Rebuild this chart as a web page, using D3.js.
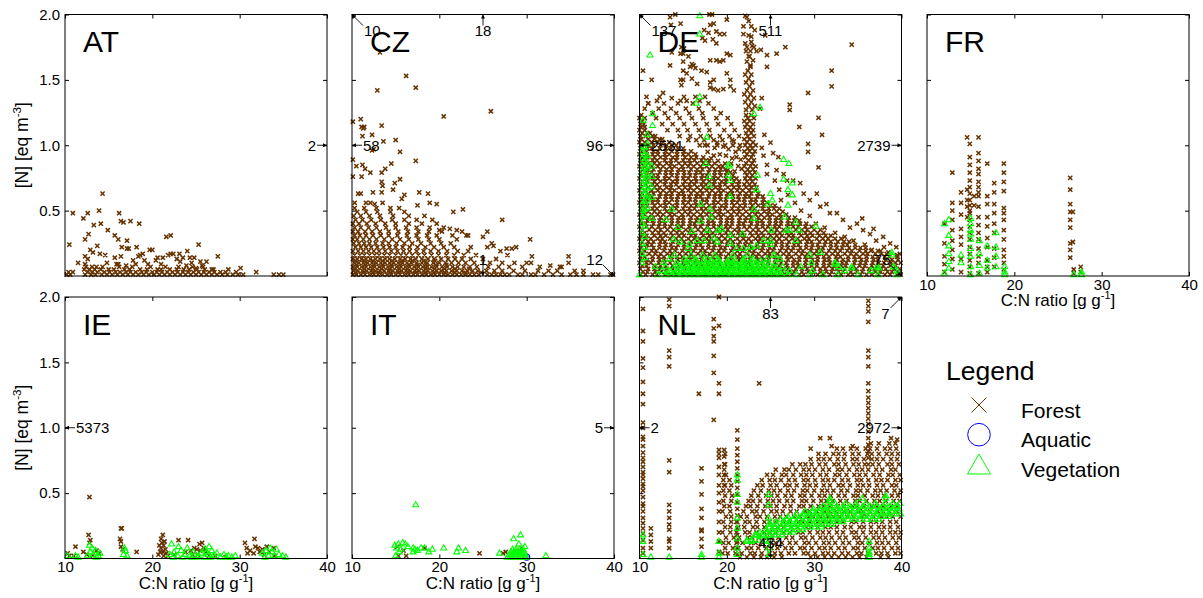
<!DOCTYPE html>
<html>
<head>
<meta charset="utf-8">
<script src="https://cdn.jsdelivr.net/npm/d3@7"></script>
<style>
  body { margin: 0; background: #fff; }
  svg { display: block; }
  text { font-family: "Liberation Sans", Arial, Helvetica, sans-serif; fill: #000; }
</style>
</head>
<body>
<svg id="chart" width="1203" height="598"></svg>
<script>
// ---- axes ----
const xTicks = [10, 20, 30, 40];
const yTicks = [0.5, 1.0, 1.5, 2.0];
const yTickLabels = ["0.5", "1.0", "1.5", "2.0"];
const countries = ["AT", "CZ", "DE", "FR", "IE", "IT", "NL"];
const legendItems = ["Forest", "Aquatic", "Vegetation"];

// ---- observations: "r y|x x ..." (shared y), "c x|y y ..." (shared x), "p|x,y x,y ..." ----
const atForest = [
  "p|14.3,.63 10.9,.48 12.6,.48 13.9,.50 12.1,.44 14.1,.40 13.3,.39 16.2,.48 16.4,.42 16.7,.41 17.5,.42 18.5,.40 14.9,.35 15.7,.31 16.1,.28 17.1,.27 12.7,.32 12.3,.28 10.5,.24 13.7,.23 16.5,.22 17.1,.21 17.3,.21 18.2,.22 21.6,.30 22.1,.31 25.3,.24 24.0,.19 27.5,.15 30.1,.06 31.9,.03 11.5,.10 13.2,.18 12.9,.20 12.3,.15 12.6,.13 14.0,.17 14.6,.16 15.7,.14 16.4,.15 15.9,.09 16.1,.09 17.8,.12 18.1,.09 18.4,.15 18.6,.16 18.9,.17 19.7,.20 20.0,.20 19.1,.12 20.4,.12 20.6,.14 21.2,.14 21.8,.16 22.1,.17 22.4,.17 23.1,.17 22.8,.13 23.2,.11 23.5,.14 24.3,.14 24.5,.10 24.8,.14 25.5,.11 26.2,.11 25.7,.08 26.8,.05 12.3,.09 13.1,.07 14.8,.10 17.0,.08 19.5,.09 21.0,.09 23.9,.08 25.0,.06",
  "r .01|10.2 10.6 12.3 13.0 13.5 14.2 14.8 15.4 16.0 16.6 17.2 17.8 18.4 19.0 19.6 20.2 20.8 21.4 22.0 22.6 23.2 23.8 24.4 25.0 25.6 26.2 26.8 27.4 28.0 28.6 29.2 29.8 30.4 33.9 34.5 35.0",
  "r .03|10.4 10.9 12.6 13.1 13.7 14.5 15.1 15.8 16.3 17.0 17.5 18.1 18.8 19.3 20.0 20.5 21.1 21.7 22.3 22.9 23.5 24.1 24.7 25.3 25.9 26.5 27.1 27.8 28.4 29.6",
  "r .05|12.2 12.8 13.4 14.1 15.0 15.6 16.8 17.4 18.6 19.4 20.6 21.0 22.0 22.8 23.6 24.2 25.1 26.0 27.0 28.7",
  "r .07|12.4 13.6 14.3 16.2 17.7 19.8 21.5 23.0 24.6 25.8"
];

const czForest = [
  "p|16.2,1.53 12.9,1.42 17.3,1.44 20.5,1.22 25.9,1.26 13.2,1.71 10.1,1.18 11.0,1.20 11.1,1.14 11.3,1.13 11.4,1.14 13.4,1.15 11.2,1.07 12.3,1.08 13.6,1.03 15.0,1.04 12.3,.96 12.5,.97 15.5,.95 17.3,.88 10.1,.89 10.5,.84 11.2,.85 11.5,.82 10.1,.76 11.1,.76 12.1,.79 13.4,.79 13.8,.82 14.5,.86 15.5,.74 14.9,.71 13.4,.72 13.5,.69 14.7,.66 13.4,.64 12.4,.64 10.7,.63 11.0,.63 16.0,.62 17.7,.64 18.7,.63 15.7,.59 10.3,.56 11.6,.56 12.1,.56 12.6,.55 13.5,.56 17.5,.54 18.9,.56 19.7,.55 21.6,.49 22.7,.51 27.2,.43 30.4,.28 28.8,.22 34.8,.15 25.5,.34 25.0,.30 20.0,.35 21.2,.36 22.0,.35 23.3,.31 26.2,.23 27.7,.21 28.3,.21 30.6,.15 32.7,.08 34.0,.07",
  "r .01|10.1 10.5 11.0 11.5 12.0 12.5 13.0 13.5 14.0 14.5 15.0 15.5 16.0 16.5 17.0 17.5 18.0 18.5 19.0 19.5 20.0 20.5 21.0 21.5 22.0 22.5 23.0 23.5 24.0 24.5 25.5 26.0 26.5 27.0 27.5 28.0 29.0 29.5 30.5 31.0 32.0 33.0 34.0 35.0 35.7 36.5 37.6 38.2 39.6 39.9",
  "r .025|10.4 11.3 12.4 13.1 14.4 15.3 16.4 17.3 18.4 19.4 20.6 21.8 23.0 24.8",
  "r .04|10.2 10.7 11.2 11.7 12.2 12.7 13.2 13.7 14.2 14.7 15.2 15.7 16.2 16.7 17.2 17.7 18.2 18.7 19.2 19.7 20.2 20.8 21.4 22.0 22.6 23.2 23.8 24.4 25.4 26.3 27.2 28.5 29.8 31.3 32.5 33.5 35.5 36.5",
  "r .055|10.3 11.4 12.3 13.4 14.3 15.4 16.3 17.4 18.5 19.5 20.6 21.8 23.4",
  "r .07|10.1 10.6 11.1 11.6 12.1 12.6 13.1 13.6 14.1 14.6 15.1 15.6 16.1 16.6 17.1 17.6 18.1 18.6 19.1 19.7 20.3 20.9 21.5 22.1 22.8 23.5 24.3 25.6 26.8 28.0 29.5 31.5 33.8",
  "r .085|10.5 11.5 12.5 13.5 14.5 15.5 16.5 17.5 18.5 19.6 20.8",
  "r .10|10.3 10.8 11.3 11.8 12.3 12.8 13.3 13.8 14.3 14.8 15.3 15.8 16.3 16.8 17.4 18.0 18.6 19.3 20.0 20.7 21.4 22.2 23.0 24.0 25.8 27.2 28.6 30.0 30.5 34.8",
  "r .115|10.4 11.4 12.4 13.5 14.6 15.7 16.9 18.2 19.5",
  "r .13|10.1 10.6 11.1 11.6 12.1 12.7 13.2 13.8 14.3 14.9 15.5 16.1 16.7 17.3 18.0 18.7 19.4 20.2 21.0 21.8 22.6 23.6 25.0 26.5",
  "r .16|10.3 10.9 11.4 12.0 12.6 13.1 13.7 14.3 15.0 15.6 16.2 16.9 17.6 18.3 19.1 19.9 20.8 21.7 22.8 24.2 27.8",
  "r .19|10.1 10.7 11.3 11.9 12.5 13.1 13.8 14.5 15.2 15.9 16.6 17.4 18.2 19.0 19.9 20.9 22.1 23.3 27.0",
  "r .22|10.4 11.0 11.6 12.2 12.9 13.6 14.3 15.0 15.8 16.6 17.5 18.4 19.4 20.5 21.7 23.6 25.5",
  "r .25|10.2 10.8 11.4 12.0 12.7 13.5 14.2 15.1 16.0 16.9 17.9 19.0 20.2 21.3 26.0",
  "r .28|10.1 10.6 11.3 12.0 12.8 13.7 14.6 15.5 16.5 17.6 18.8 20.0 22.0",
  "r .31|10.3 10.9 11.6 12.4 13.3 14.2 15.2 16.3 17.4 18.6 19.7 21.5 23.1",
  "r .34|10.1 10.7 11.5 12.3 13.2 14.2 15.3 16.4 17.6 18.8 20.3 22.6",
  "r .37|10.3 11.0 11.9 12.8 13.9 15.0 16.2 17.4 18.9 20.5",
  "r .40|10.1 10.8 11.7 12.7 13.8 15.0 16.5 18.0 19.7",
  "r .43|10.4 11.2 12.2 13.3 14.6 16.0 17.4 19.2",
  "r .46|10.2 11.0 12.0 13.2 14.7 16.5 18.3",
  "r .49|10.6 11.6 12.9 14.4 16.0",
  "r .52|10.3 11.4 12.8 14.4 15.4"
];

const deForest = [
  "r .010|10.1 10.7 11.5 12.0 12.9 13.6 14.2 15.0 15.7 16.3 17.1 17.6 18.5 19.2 19.8 20.6 21.3 21.9 22.7 23.2 24.1 24.8 25.4 26.2 26.9 27.5 28.3 28.8 29.7 30.4 31.0 31.8 32.5 33.1 33.9 34.4 35.3 36.0 36.6 37.4 38.1 38.7 39.5 39.9",
  "r .032|10.4 10.9 11.8 12.5 13.1 13.9 14.6 15.2 16.0 16.5 17.4 18.1 18.7 19.5 20.2 20.8 21.6 22.1 23.0 23.7 24.3 25.1 25.8 26.4 27.2 27.7 28.6 29.3 29.9 30.7 31.4 32.0 32.8 33.3 34.2 34.9 35.5 36.3 37.0 37.6 38.4 38.9 39.8",
  "r .055|10.1 11.0 11.7 12.3 13.1 13.8 14.4 15.2 15.8 16.7 17.4 18.0 18.8 19.5 20.1 20.9 21.4 22.3 23.0 23.6 24.4 25.1 25.7 26.5 27.0 27.9 28.6 29.2 30.0 30.7 31.3 32.1 32.6 33.5 34.2 34.8 35.6 36.3 36.9 37.7 38.2 39.1 39.8",
  "r .078|10.3 10.8 11.7 12.4 13.0 13.8 14.5 15.1 15.9 16.5 17.1 17.9 18.4 19.3 20.0 20.6 21.4 22.1 22.7 23.5 24.1 24.7 25.5 26.0 26.9 27.6 28.2 29.0 29.7 30.3 31.1 31.7 32.3 33.1 33.6 34.5 35.2 35.8 36.6 37.3 37.9 38.7 39.3",
  "r .100|10.0 10.8 11.3 12.2 12.9 13.5 14.3 15.0 15.6 16.4 16.9 17.8 18.5 19.1 19.9 20.6 21.2 22.0 22.5 23.4 24.1 24.7 25.5 26.2 26.8 27.6 28.1 29.0 29.7 30.3 31.1 31.8 32.4 33.2 33.7 34.6 35.3 35.9 36.7 37.4 38.0 38.8 39.3 39.9",
  "r .124|10.2 10.9 11.5 12.3 12.8 13.7 14.4 15.0 15.8 16.5 17.1 17.9 18.6 19.2 20.0 20.5 21.4 22.1 22.7 23.5 24.2 24.8 25.6 26.1 27.0 27.7 28.3 29.1 29.8 30.4 31.2 31.7 32.6 33.3 33.9 34.7 35.4 36.0 36.8 37.3 38.2 38.9 39.6",
  "r .147|10.1 10.6 11.5 12.2 12.8 13.6 14.3 14.9 15.7 16.2 17.1 17.8 18.4 19.2 19.9 20.5 21.3 21.8 22.7 23.4 24.0 24.8 25.5 26.1 26.9 27.4 28.3 29.0 29.6 30.4 31.1 31.7 32.5 33.0 33.9 34.6 35.2 36.0 36.7 37.3 38.1 38.6 39.5",
  "r .170|10.3 11.1 11.8 12.4 13.2 13.7 14.6 15.3 15.9 16.7 17.4 18.0 18.8 19.3 20.2 20.9 21.5 22.3 23.0 23.6 24.4 24.9 25.8 26.5 27.1 27.9 28.6 29.2 30.0 30.5 31.4 32.1 32.7 33.5 34.2 34.8 35.6 36.1 37.0 37.7 38.3",
  "r .192|10.0 10.6 11.4 11.9 12.8 13.5 14.1 14.9 15.6 16.2 17.0 17.5 18.4 19.1 19.7 20.5 21.2 21.8 22.6 23.1 24.0 24.7 25.3 26.1 26.8 27.4 28.2 28.7 29.6 30.3 30.9 31.7 32.4 33.0 33.8 34.3 35.2 35.9 36.5 37.3",
  "r .215|10.2 10.8 11.6 12.3 12.9 13.7 14.2 15.1 15.8 16.4 17.2 17.9 18.5 19.3 19.8 20.7 21.4 22.0 22.8 23.5 24.1 24.9 25.4 26.3 27.0 27.6 28.4 29.1 29.7 30.5 31.0 31.9 32.6 33.2 34.0 34.7 35.3 35.9",
  "r .238|10.1 10.9 11.4 12.3 13.0 13.6 14.4 15.1 15.7 16.5 17.0 17.9 18.6 19.2 20.0 20.7 21.3 22.1 22.6 23.5 24.2 24.8 25.6 26.3 26.9 27.7 28.2 29.1 29.8 30.4 31.2 31.9 32.5 33.3 33.8 34.7",
  "r .262|10.3 11.0 11.6 12.4 12.9 13.8 14.5 15.1 15.9 16.6 17.2 18.0 18.5 19.4 20.1 20.7 21.5 22.2 22.8 23.6 24.1 25.0 25.7 26.3 27.1 27.8 28.4 29.2 29.7 30.6 31.3 31.9 32.7 33.4 34.0",
  "r .285|10.0 10.7 11.3 12.1 12.6 13.5 14.2 14.8 15.6 16.3 16.9 17.7 18.2 19.1 19.8 20.4 21.2 21.9 22.5 23.3 23.8 24.7 25.4 26.0 26.8 27.5 28.1 28.9 29.4 30.3 31.0 31.6 32.4 33.1",
  "r .308|10.2 10.8 11.7 12.4 13.0 13.8 14.5 15.1 15.9 16.4 17.3 18.0 18.6 19.4 20.1 20.7 21.5 22.0 22.9 23.6 24.2 25.0 25.7 26.3 27.1 27.6 28.5 29.2 29.8 30.6 31.3 31.9",
  "r .330|10.1 10.6 11.5 12.2 12.8 13.6 14.3 14.9 15.7 16.2 17.1 17.8 18.4 19.2 19.9 20.5 21.3 21.8 22.7 23.4 24.0 24.8 25.5 26.1 26.9 27.4 28.3 29.0 29.6 30.4 31.1",
  "r .353|10.3 11.1 11.8 12.4 13.2 13.9 14.5 15.3 15.8 16.7 17.4 18.0 18.8 19.5 20.1 20.9 21.4 22.3 23.0 23.6 24.4 25.1 25.7 26.5 27.0 27.9 28.6 29.2 30.0 30.7",
  "r .377|10.0 10.8 11.4 12.2 12.9 13.5 14.3 14.8 15.7 16.4 17.0 17.8 18.5 19.1 19.9 20.4 21.3 22.0 22.6 23.4 24.1 24.7 25.5 26.0 26.9 27.6 28.2 29.0 29.7",
  "r .400|10.2 10.7 11.6 12.3 12.9 13.7 14.4 15.0 15.8 16.3 17.2 17.9 18.5 19.3 20.0 20.6 21.4 21.9 22.8 23.5 24.1 24.9 25.6 26.2 27.0 27.5 28.4 29.1",
  "r .423|10.1 10.9 11.5 12.3 12.8 13.7 14.4 15.0 15.8 16.5 17.1 17.9 18.4 19.3 20.0 20.6 21.4 22.1 22.7 23.5 24.0 24.9 25.6 26.2 27.0 27.7 28.3",
  "r .446|10.3 11.0 11.6 12.4 13.1 13.7 14.5 15.0 15.9 16.6 17.2 18.0 18.7 19.3 20.1 20.6 21.5 22.2 22.8 23.6 24.3 24.9 25.7 26.2 27.1 27.8",
  "r .470|10.0 10.6 11.4 12.1 12.7 13.5 14.0 14.9 15.6 16.2 17.0 17.7 18.3 19.1 19.6 20.5 21.2 21.8 22.6 23.3 23.9 24.7 25.2 26.1 26.8",
  "r .492|10.2 11.0 11.7 12.3 13.1 13.6 14.5 15.2 15.8 16.6 17.3 17.9 18.7 19.2 20.1 20.8 21.4 22.2 22.9 23.5 24.3 24.8 25.7 26.4",
  "r .515|10.1 10.7 11.5 12.0 12.9 13.6 14.2 15.0 15.7 16.3 17.1 17.6 18.5 19.2 19.8 20.6 21.3 21.9 22.7 23.2 24.1 24.8 25.4 26.0",
  "r .538|10.3 10.9 11.7 12.4 13.0 13.8 14.3 15.2 15.9 16.5 17.3 18.0 18.6 19.4 19.9 20.8 21.5 22.1 22.9 23.6 24.2 25.0 25.5",
  "r .561|10.0 10.8 11.5 12.1 12.9 13.4 14.3 15.0 15.6 16.4 17.1 17.7 18.5 19.0 19.9 20.6 21.2 22.0 22.7 23.3 24.1 24.6",
  "r .585|10.2 10.8 11.6 12.1 13.0 13.7 14.3 15.1 15.8 16.4 17.2 17.7 18.6 19.3 19.9 20.7 21.4 22.0 22.8 23.3 24.2",
  "r .608|10.1 10.9 11.4 12.3 13.0 13.6 14.4 15.1 15.7 16.5 17.0 17.9 18.6 19.2 20.0 20.7 21.3 22.1 22.6 23.5 24.1",
  "r .631|10.3 11.0 11.6 12.4 13.1 13.7 14.5 15.0 15.9 16.6 17.2 18.0 18.7 19.3 20.1 20.6 21.5 22.2 22.8 23.6",
  "r .654|10.0 10.6 11.4 12.1 12.7 13.5 14.0 14.9 15.6 16.2 17.0 17.7 18.3 19.1 19.6 20.5 21.2 21.8 22.6 23.3",
  "r .677|10.2 11.0 11.7 12.3 13.1 13.6 14.5 15.2 15.8 16.6 17.3 17.9 18.7 19.2 20.1 20.8 21.4 22.2 22.8 23.4",
  "r .700|10.1 10.7 11.5 12.0 12.9 13.6 14.2 15.0 15.7 16.3 17.1 17.6 18.5 19.2 19.8 20.6 21.3 22.0 22.6 23.2",
  "r .723|10.3 10.9 11.7 12.4 13.0 13.8 14.3 15.2 15.9 16.5 17.3 18.0 18.6 19.4 19.9 20.8 21.4 22.3 22.9",
  "r .746|10.0 10.8 11.5 12.1 12.9 13.4 14.3 15.0 15.6 16.4 17.1 17.7 18.5 19.0 19.9 20.6 21.1 22.1 22.7 23.3",
  "r .770|10.2 10.8 11.6 12.1 13.0 13.7 14.3 15.1 15.8 16.4 17.2 17.7 18.6 19.3 19.9 20.7 22.3 22.9",
  "r .793|10.1 10.9 11.4 12.3 13.0 13.6 14.4 15.1 15.7 16.5 17.0 17.9 18.6 19.2 20.0 20.4 22.1 22.6 23.2",
  "r .816|10.3 11.0 11.6 12.4 13.1 13.7 14.5 15.0 15.9 16.6 17.2 18.0 18.7 19.3 19.8 22.4 23.0",
  "r .839|10.0 10.6 11.4 12.1 12.7 13.5 14.0 14.9 15.6 16.2 17.0 17.7 18.3 19.1 22.0 22.7 23.3",
  "r .862|10.2 11.0 11.7 12.3 13.1 13.6 14.5 15.2 15.8 16.6 17.3 17.9 18.6 22.2 22.9",
  "r .885|10.1 10.7 11.5 12.0 12.9 13.6 14.2 15.0 15.7 16.3 17.1 17.6 18.0 22.5 23.1",
  "r .908|10.3 10.9 11.7 12.4 13.0 13.8 14.3 15.2 15.9 16.5 17.3 22.1 22.8",
  "r .931|10.0 10.8 11.5 12.1 12.9 13.4 14.3 15.0 15.6 16.4 22.3 23.0",
  "r .954|10.2 10.8 11.6 12.1 13.0 13.7 14.3 15.1 15.9 22.0 22.6 23.2",
  "r .977|10.1 10.9 11.4 12.3 13.0 13.6 14.4 15.0 22.4 22.9",
  "r 1.000|10.3 11.0 11.6 12.4 13.1 13.7 14.2 16.9 17.8 18.9 19.8 20.7 21.5 22.1 22.7 23.3",
  "r 1.023|10.0 10.6 11.4 12.1 12.7 13.4 22.3 23.0",
  "r 1.040|15.6 16.5 17.4 18.5 19.5 20.6",
  "r 1.046|10.2 11.0 11.7 12.3 12.6 22.0 22.6",
  "r 1.070|10.1 10.7 11.5 11.8 14.6 15.8 17.0 18.1 19.2 20.3 21.4 22.4 23.1",
  "r 1.093|10.3 10.9 11.2 22.2 22.8",
  "r 1.116|10.0 10.6 13.2 14.4 15.5 16.8 18.0 19.7 20.9 22.5 23.0",
  "r 1.139|10.2 10.6 22.1 22.7",
  "r 1.162|10.1 10.5 12.6 13.8 15.1 16.4 17.7 19.0 20.5 22.3 23.0",
  "r 1.185|10.3 22.0 22.6",
  "r 1.208|10.0 10.6 11.9 13.3 14.6 16.0 17.3 18.8 20.1 22.4 23.1",
  "r 1.231|10.2 22.2 22.8",
  "r 1.245|11.5 12.9 14.2 15.7 17.2 19.3",
  "r 1.28|10.6 12.2 13.6 15.3 16.8 18.5",
  "r 1.32|11.0 12.8 14.4 16.1 17.9",
  "p|19.8,.86 20.6,.90 21.3,.84 19.2,.93 20.2,.97 21.0,.95 18.6,.98 21.6,.89 20.9,.80 18.5,.92 17.8,.95 18.9,1.02 19.6,.99 20.8,1.03 21.4,.97 17.5,1.00 18.2,.90 19.0,.88 19.9,.92 20.5,.86 21.1,.91 21.7,.82 20.1,.81 19.5,.84",
  "p|22.2,1.27 22.9,1.27 22.5,1.30 23.2,1.30 22.1,1.33 22.8,1.33 22.4,1.36 23.1,1.36 22.0,1.39 22.7,1.39 22.3,1.42 23.0,1.42 22.6,1.45 22.2,1.48 22.9,1.48 22.5,1.51 22.1,1.54 22.8,1.54 22.4,1.57 22.7,1.60 22.3,1.64 22.6,1.68 22.2,1.72 22.9,1.76",
  "p|13.5,1.98 14.1,2.0 14.7,1.93 13.6,1.92 18.0,2.0 18.3,2.0 18.1,1.92 18.5,1.93 17.4,1.88 20.0,1.96 22.1,1.99 22.3,1.98 22.5,1.95 22.8,1.91 21.9,1.91 23.2,1.88 21.9,1.85 22.5,1.84 22.8,1.83 18.8,1.87 19.2,1.85 19.7,1.85 17.9,1.86 17.2,1.82 17.5,1.80 18.4,1.81 18.8,1.78 24.4,1.84 13.7,1.71 14.7,1.70 15.0,1.70 15.6,1.68 14.8,1.75 15.1,1.74 16.0,1.62 16.2,1.61 15.0,1.64 19.2,1.64 19.6,1.65 20.0,1.70 20.4,1.69 18.1,1.65 18.8,1.65 22.1,1.78 22.3,1.75 22.7,1.72 22.8,1.79 23.1,1.75 23.4,1.72 22.5,1.68 23.0,1.65 22.7,1.61 24.6,1.69 24.6,1.60 23.9,1.73 26.7,1.75 25.7,1.70 10.4,1.57 11.4,1.50 13.5,1.61 15.0,1.57 15.4,1.55 15.8,1.60 16.4,1.59 17.1,1.57 17.7,1.56 15.0,1.50 14.7,1.50 14.8,1.46 16.0,1.51 16.6,1.47 18.1,1.48 18.5,1.50 20.0,1.55 20.4,1.50 18.1,1.44 18.5,1.43 20.4,1.45 20.8,1.42 19.0,1.42 19.6,1.43 12.7,1.40 12.3,1.37 12.0,1.34 13.7,1.36 14.7,1.34 15.1,1.37 15.4,1.34 16.4,1.37 16.9,1.34 17.5,1.37 10.8,1.37 11.0,1.32",
  "p|34.3,1.77 32.0,1.57 32.0,1.45 29.3,1.40 27.2,1.31 27.2,1.27 30.5,1.21 28.3,1.14 30.9,1.08 29.3,1.01 29.3,.95 30.5,.83 24.6,.85 25.3,.94 25.9,.91 24.6,.78 25.7,.81 26.5,.78 26.9,.73 27.6,.73 28.4,.71 28.8,.63 29.5,.58 30.3,.63 30.7,.53 31.4,.55 31.8,.48 32.6,.48 33.3,.43 34.1,.37 34.9,.40 35.6,.35 36.4,.32 37.1,.27 37.9,.30 38.7,.25 39.4,.22 39.8,.17 24.0,1.36 23.8,1.28 24.3,1.08 24.0,.98 25.0,1.02 25.5,.73 26.0,.66 27.0,.62 27.8,.56 28.5,.50 29.5,.46 30.2,.40 31.2,.37 32.4,.33 33.5,.30 34.5,.27 35.8,.24 36.6,.20 37.6,.19 38.5,.18 39.5,.16 24.2,.92 26.2,.58 35.5,.44 36.8,.36 38.0,.22"
];

const deVegetation = [
  "p|10.4,1.19 11.5,1.24 11.5,1.15 10.9,1.08 10.5,.99 10.9,1.01 11.2,1.69 16.9,1.85 16.9,1.99 16.9,1.37 16.5,1.32 23.8,1.29 23.1,1.24 17.7,1.06 17.6,.86 20.2,.85 20.3,.84 20.2,.77 20.4,.73 23.5,.77 23.4,.66 18.0,.76 18.0,.69 26.5,.89 27.1,.86 26.5,.74 27.5,.71 27.0,.66 27.5,.62 27.0,.54 25.0,.63 25.2,.58 24.7,.55 20.4,.61 17.0,.55 18.1,.51 13.7,.51 13.0,.43 11.4,.44 17.0,.42 18.2,.45 23.1,.51 23.1,.44 14.4,.37 16.0,.34 17.8,.35 19.0,.35 19.4,.36 21.8,.32 20.4,.31 25.1,.35 26.6,.45 27.9,.41 28.3,.35 27.9,.27 26.8,.35 27.2,.35 30.2,.38 30.7,.18 32.4,.09 32.8,.07 34.3,.06 37.2,.07 37.4,.06 38.9,.18 39.1,.07 39.5,.04 13.9,.28 14.7,.26 15.6,.21 15.7,.24 16.6,.27 17.4,.27 18.5,.29 18.9,.26 20.4,.25 21.1,.21 21.9,.21 22.7,.22 23.4,.23 24.2,.27 25.0,.27 25.0,.24 25.4,.16",
  "c 10.3|.95 .90 .85 .80 .75 .70 .65 .60 .55 .50 .45 .40 .33 .25 .17 .10",
  "c 10.6|.98 .93 .88 .83 .78 .73 .68 .63 .57 .51 .46 .38 .30 .22 .14",
  "c 10.9|.92 .87 .82 .77 .72 .67 .62 .58 .52",
  "c 11.4|.84 .76 .68 .60",
  "r .01|10.0 12.1 13.0 13.8 14.6 15.2 15.8 16.3 16.8 17.3 17.8 18.3 18.8 19.3 19.8 20.3 20.8 21.3 21.8 22.3 22.8 23.3 23.8 24.3 24.9 25.5 26.2 27.0 28.0 29.5 31.0 32.7 35.0 37.3 39.5",
  "r .025|13.3 14.1 14.9 15.5 16.0 16.5 17.0 17.5 18.0 18.5 19.0 19.5 20.0 20.5 21.0 21.5 22.0 22.5 23.0 23.5 24.0 24.6 25.3 25.9 26.6",
  "r .04|12.6 13.5 14.4 15.0 15.6 16.1 16.6 17.1 17.6 18.1 18.6 19.1 19.6 20.1 20.6 21.1 21.6 22.1 22.6 23.1 23.6 24.1 24.6 25.2 26.0 27.2 29.8 33.5 36.5",
  "r .055|13.9 14.6 15.2 15.8 16.4 16.9 17.4 17.9 18.5 19.0 19.6 20.1 20.7 21.2 21.8 22.4 22.9 23.5 24.1 24.8 25.6",
  "r .07|11.8 13.0 14.7 15.4 16.2 16.9 17.5 18.2 18.9 19.5 20.2 20.9 21.5 22.2 22.9 23.5 24.3 25.3 26.4 28.5 32.8 34.3 37.2 39.1",
  "r .085|14.4 15.2 16.0 16.6 17.2 17.9 18.6 19.2 19.9 20.5 21.1 21.9 22.6 23.3 24.0 24.9",
  "r .10|12.7 14.2 15.8 16.7 17.6 18.5 19.3 20.0 20.8 21.7 22.5 23.4 24.4 25.6 29.7 32.4",
  "r .115|15.4 16.4 17.3 18.2 19.1 20.1 21.0 21.9 22.9 23.9",
  "r .13|13.4 15.1 16.4 17.8 19.0 20.4 21.9 23.0 24.6 26.1",
  "r .16|14.0 15.9 17.2 18.6 20.7 22.4 25.4 29.5 38.9"
];

const frForest = [
  "c 12.0|.40 .25 .15 .09 .03",
  "c 12.9|.79 .56 .50 .43 .35 .27 .20 .13 .05",
  "c 13.9|.64 .56 .47 .36 .30 .24 .13 .03",
  "c 14.6|1.06 .66 .58 .53 .45",
  "c 14.9|1.01 .91 .85 .79 .73 .68 .63 .58 .54 .50 .48 .43 .38 .33 .28 .22 .17 .12 .07 .02",
  "c 15.4|.61 .54",
  "c 15.9|1.06 .94 .88 .82 .78 .72 .68 .64 .61 .53 .45 .39 .33 .28 .21 .15 .10 .02",
  "c 16.9|.86 .61 .55 .45 .38 .29 .22 .12 .07 .03",
  "c 17.7|.71 .64 .55 .48 .40 .33 .21 .14 .07",
  "c 18.8|.86 .79 .72 .65 .52 .48 .43 .35 .28 .20 .15 .10 .05",
  "c 26.4|.75 .66 .55 .49 .43 .37 .25 .20 .14",
  "c 26.7|.49 .26",
  "c 26.8|.05 .02",
  "c 27.6|.07 .03"
];
const frVegetation = [
  "c 12.0|.40 .02",
  "c 12.5|.43 .31 .23 .17 .11 .06",
  "c 13.9|.16 .10",
  "c 15.0|.44 .40 .35 .32 .28 .21 .15 .07 .01",
  "c 16.0|.27 .17 .08 .02",
  "c 16.9|.23 .12 .06",
  "c 17.9|.33 .22 .15 .07",
  "c 18.9|.07 .03 .01",
  "c 26.8|.01",
  "c 27.7|.03 .01"
];

const ieForest = [
  "p|12.8,.47 12.7,.18 12.9,.14 12.8,.12 11.2,.09 12.1,.05 10.3,.04 10.5,.02 13.6,.06 13.9,.04 12.5,.03 13.2,.02 11.0,.02 16.4,.23 16.5,.23 16.3,.15 16.4,.13 16.4,.09 16.6,.07 18.2,.05 21.2,.18 21.0,.15 20.8,.10 21.3,.10 21.0,.08 21.5,.07 20.9,.05 21.2,.05 21.6,.04 20.7,.03 21.3,.02 21.8,.02 21.1,.12 21.4,.13 23.0,.14 24.1,.14 23.8,.05 24.4,.06 24.8,.08 25.1,.07 25.4,.11 25.7,.12 25.5,.06 25.9,.08 26.1,.05 24.6,.03 25.2,.03 22.5,.03 26.5,.02 27.2,.02 28.4,.01 30.6,.12 31.7,.15 30.8,.08 31.2,.06 31.6,.04 32.1,.08 32.3,.05 32.6,.07 33.1,.09 33.4,.05 33.9,.08 31.8,.09 32.8,.03 30.9,.04 34.0,.02"
];
const ieVegetation = [
  "p|12.6,.02 12.9,.05 13.2,.03 13.5,.06 13.8,.02 13.1,.08 12.8,.10 13.6,.01 14.0,.04 10.3,.02 11.2,.02 11.5,.01 16.7,.03 16.9,.06 17.1,.02 16.8,.08 22.2,.11 22.5,.05 22.9,.02 23.3,.06 23.7,.03 24.0,.08 24.3,.02 24.7,.05 25.1,.01 25.6,.04 26.0,.07 26.5,.09 26.4,.03 26.8,.06 27.0,.02 27.4,.04 27.8,.01 28.2,.03 28.7,.02 29.1,.01 29.5,.02 22.0,.03 23.0,.09 26.2,.05 25.3,.02 22.4,.01 23.5,.01 24.5,.01 26.0,.01 26.7,.01 28.5,.01 32.6,.04 33.0,.06 33.3,.02 33.7,.05 34.2,.07 34.5,.03 34.9,.02 35.3,.01 32.9,.01 34.0,.02 33.5,.08"
];

const itForest = [
  "p|15.3,.02 15.9,.06 16.2,.02 18.3,.08 24.6,.04 27.3,.04 27.6,.05 29.4,.08 29.2,.05 15.2,.09"
];
const itAquatic = [
  "p|30.0,.01"
];
const itVegetation = [
  "p|17.3,.41 29.3,.18 28.5,.15 29.1,.11 29.8,.09 14.9,.10 15.3,.11 15.8,.12 16.1,.11 15.1,.08 15.4,.05 15.0,.02 17.0,.08 17.0,.05 17.5,.06 17.9,.08 18.3,.08 18.8,.05 19.2,.07 20.5,.08 22.0,.05 22.2,.08 23.0,.06 26.9,.04 32.2,.02 15.6,.07 16.4,.09 17.2,.07",
  "r .01|27.8 28.1 28.4 28.7 29.0 29.3 29.6 29.9",
  "r .03|28.0 28.3 28.6 28.9 29.2 29.5 29.8",
  "r .05|28.2 28.5 28.8 29.1 29.4 29.7",
  "r .07|28.4 28.8 29.2 29.6"
];

const nlForest = [
  "c 10.4|1.91 1.74 1.66 1.53 1.46 1.35 1.26 1.18 1.04 1.00 .93 .91 .86 .81 .77 .74 .70 .66 .64 .61 .57 .55 .52 .47 .42 .40 .36 .31 .27 .23 .19 .14 .08 .04",
  "c 11.3|.23 .18 .13 .08",
  "c 13.4|1.98 1.93 1.59 1.54 1.47 .75 .66 .41 .36 .31 .26 .22 .15 .13 .08",
  "c 16.8|1.26",
  "c 17.1|.69 .59 .49 .38 .31 .22 .21 .15 .09",
  "c 18.5|1.83 1.76 1.70 1.66 1.55 1.42 1.06",
  "c 19.1|2.0 1.78 1.34 1.26 .83 .80 .77 .70 .64 .56 .50 .43 .36 .28 .20 .13 .05",
  "c 19.7|.83 .78 .72 .64 .56",
  "c 21.2|.98 .91 .84 .79 .74 .69 .64 .59 .54 .49 .43 .38 .33 .28 .23 .18 .13 .08 .03",
  "c 23.7|1.34",
  "c 36.2|1.97 1.93 1.89 1.81 1.59 1.54 1.47 1.34 1.28 1.23 1.19 1.15 1.11 1.07 1.03 .97 .92 .87 .82 .77 .72",
  "p|30.7,.92 31.8,.92 29.6,.84 32.0,.86 34.4,.86 38.8,.92 39.5,.91",
  "r .01|21.5 22.3 23.1 23.9 24.6 25.4 26.3 29.6 30.4 31.2 32.0 32.8 33.6 34.4 35.2 36.0 37.6 38.5",
  "r .04|19.5 20.1 21.0 21.7 22.7 23.2 24.0 24.9 25.5 26.2 27.1 27.8 28.8 29.3 30.1 31.0 31.6 32.3 33.2 33.9 34.9 35.4 36.2 37.1 37.7 38.4 39.3 39.9",
  "r .08|19.8 20.7 21.3 22.3 22.8 23.6 24.5 25.1 25.8 26.7 27.4 28.4 28.9 29.7 30.6 31.2 31.9 32.8 33.5 34.5 35.0 35.8 36.7 37.3 38.0 38.9 39.6",
  "r .12|19.6 20.2 21.1 21.8 22.8 23.3 24.1 25.0 25.6 26.3 27.2 27.9 28.9 29.4 30.2 31.1 31.7 32.4 33.3 34.0 35.0 35.5 36.3 37.2 37.8 38.5 39.4",
  "r .16|19.9 20.8 21.4 22.4 22.9 23.7 24.6 25.2 25.9 26.8 27.5 28.5 29.0 29.8 30.7 31.3 32.0 32.9 33.6 34.6 35.1 35.9 36.8 37.4 38.1 39.0 39.7",
  "r .20|19.5 20.4 21.1 22.1 22.6 23.4 24.3 24.9 25.6 26.5 27.2 28.2 28.7 29.5 30.4 31.0 31.7 32.6 33.3 34.3 34.8 35.6 36.5 37.1 37.8 38.7 39.3 39.9",
  "r .24|19.8 20.4 21.3 22.0 23.0 23.5 24.3 25.2 25.8 26.5 27.4 28.1 29.1 29.6 30.4 31.3 31.9 32.6 33.5 34.2 35.2 35.7 36.5 37.4 38.0 38.7 39.6",
  "r .28|19.6 20.5 21.1 22.1 22.6 23.4 24.3 24.9 25.6 26.5 27.2 28.2 28.7 29.5 30.4 31.0 31.7 32.6 33.3 34.3 34.8 35.6 36.5 37.1 37.8 38.7 39.4",
  "r .32|19.9 20.5 21.6 22.3 23.3 23.8 24.6 25.5 26.1 26.8 27.7 28.4 29.4 29.9 30.7 31.6 32.2 32.9 33.8 34.5 35.5 36.0 36.8 37.7 38.3 39.0 39.9",
  "r .36|19.5 20.4 21.9 22.9 23.4 24.2 25.1 25.7 26.4 27.3 28.0 29.0 29.5 30.3 31.2 31.8 32.5 33.4 34.1 35.1 35.6 36.4 37.3 37.9 38.6 39.5",
  "r .40|19.7 20.3 22.2 22.7 23.5 24.4 25.0 25.7 26.6 27.3 28.3 28.8 29.6 30.5 31.1 31.8 32.7 33.4 34.4 34.9 35.7 36.6 37.2 37.9 38.8 39.5",
  "r .44|19.6 20.5 22.5 23.0 23.8 24.7 25.3 26.0 26.9 27.6 28.6 29.1 29.9 30.8 31.4 32.1 33.0 33.7 34.7 35.2 36.0 36.9 37.5 38.2 39.1 39.8",
  "r .48|19.8 20.6 22.8 23.6 24.5 25.1 25.8 26.7 27.4 28.4 28.9 29.7 30.6 31.2 31.9 32.8 33.5 34.5 35.0 35.8 36.7 37.3 38.0 38.9 39.6",
  "r .52|19.6 20.3 23.1 23.9 24.8 25.4 26.1 27.0 27.7 28.7 29.2 30.0 30.9 31.5 32.2 33.1 33.8 34.8 35.3 36.1 37.0 37.6 38.3 39.2 39.9",
  "r .56|19.8 20.5 23.5 24.1 25.0 25.7 26.7 27.2 28.0 28.9 29.5 30.2 31.1 31.8 32.8 33.3 34.1 35.0 35.6 36.3 37.2 37.9 38.9 39.4",
  "r .60|19.6 20.3 24.0 24.9 25.5 26.2 27.1 27.8 28.8 29.3 30.1 31.0 31.6 32.3 33.2 33.9 34.9 35.4 36.2 37.1 37.7 38.4 39.3 39.9",
  "r .64|19.9 24.6 25.3 26.3 26.8 27.6 28.5 29.1 29.8 30.7 31.4 32.4 32.9 33.7 34.6 35.2 35.9 36.8 37.5 38.5 39.0 39.8",
  "r .68|19.7 25.6 26.6 27.1 27.9 28.8 29.4 30.1 31.0 31.7 32.7 33.2 34.0 34.9 35.5 36.2 37.1 37.8 38.8 39.3",
  "r .72|19.8 27.5 28.4 29.0 29.7 30.6 31.3 32.3 32.8 33.6 34.5 35.1 35.8 36.7 37.4 38.4 38.9 39.7",
  "r .76|29.6 30.5 31.1 31.8 32.7 33.4 34.4 34.9 35.7 36.6 37.2 37.9 38.8 39.5",
  "r .80|19.8 30.5 31.3 32.2 32.8 33.5 34.4 35.1 36.1 36.6 37.4 38.3 38.9 39.6",
  "r .84|32.6 33.3 34.2 34.9 35.9 36.4 37.2 38.1 38.7 39.4",
  "r .88|36.5 37.4 38.6 39.3"
];
const nlVegetation = [
  "c 10.4|.18 .13 .03",
  "c 11.3|.01",
  "c 13.4|.01",
  "c 17.1|.03 .01",
  "c 19.1|.13 .04 .01",
  "c 21.2|.64 .60 .49 .43 .31 .23 .15 .08 .03",
  "c 24.8|.49 .41 .31 .26 .18 .13 .08 .03",
  "c 36.3|.13 .08 .05 .03 .01",
  "p|22.3,.13 22.8,.13 23.4,.18 23.8,.17 38.2,.48 31.8,.44",
  "r .14|22.3 22.8 23.6 24.4",
  "r .18|23.2 24.0 24.8 25.5 26.3",
  "r .20|23.8 24.6 25.3 26.1 26.9 27.6",
  "r .22|24.5 25.2 25.9 26.6 27.3 28.0 28.7",
  "r .24|24.9 25.5 26.3 27.0 27.8 28.5 29.3 30.1 30.8",
  "r .26|25.0 25.7 26.4 27.1 27.8 28.5 29.2 29.9 30.6 31.3 32.0",
  "r .28|25.6 26.5 27.2 28.0 28.8 29.5 30.3 31.1 31.8 32.6 33.3",
  "r .30|26.2 26.9 27.6 28.3 29.0 29.7 30.4 31.1 31.8 32.5 33.2 33.9 34.6 35.3 36.0 36.7 37.4",
  "r .32|27.0 27.8 28.6 29.3 30.1 30.9 31.6 32.4 33.1 33.9 34.7 35.4 36.2 37.0 37.7 38.5",
  "r .34|28.0 28.7 29.4 30.1 30.8 31.5 32.2 32.9 33.6 34.3 35.0 35.7 36.4 37.1 37.8 38.5 39.2 39.9",
  "r .36|29.0 29.8 30.5 31.3 32.1 32.8 33.6 34.4 35.1 35.9 36.6 37.4 38.2 38.9 39.7",
  "r .38|29.9 30.6 31.3 32.0 32.7 33.4 34.1 34.8 35.5 36.2 36.9 37.6 38.3 39.0 39.7",
  "r .40|31.0 31.8 32.6 33.3 34.1 34.9 35.6 36.4 37.2 37.9 38.7 39.5",
  "r .42|31.6 32.4 33.6 34.8 35.9 37.0 38.1 39.0 39.8",
  "r .46|31.8 35.5 38.2"
];

// counts of observations outside the plotted window, placed by direction
const atOutside = [["r", "2"]];
const czOutside = [["tl", "10"], ["t", "18"], ["l", "58"], ["r", "96"], ["br", "12"], ["b", "1"]];
const deOutside = [["tl", "137"], ["t", "511"], ["l", "2531"], ["r", "2739"], ["br", "75"]];
const frOutside = [];
const ieOutside = [["l", "5373"]];
const itOutside = [["r", "5"]];
const nlOutside = [["t", "83"], ["tr", "7"], ["l", "2"], ["r", "2972"], ["b", "434"]];

// ---- expand the compact strings into [x, y] pairs ----
function expand(list) {
  const pts = [];
  list.forEach(s => {
    const [head, body] = s.split("|");
    const h = head.trim().split(/\s+/);
    const vals = body.trim().split(/\s+/);
    if (h[0] === "r") vals.forEach(v => pts.push([+v, +h[1]]));
    else if (h[0] === "c") vals.forEach(v => pts.push([+h[1], +v]));
    else vals.forEach(v => { const [a, b] = v.split(","); pts.push([+a, +b]); });
  });
  return pts;
}

const panels = [
  { name: "AT", col: 0, row: 0, forest: atForest, aquatic: [], veg: [], notes: atOutside, yLab: true, xLab: false },
  { name: "CZ", col: 1, row: 0, forest: czForest, aquatic: [], veg: [], notes: czOutside, yLab: false, xLab: false },
  { name: "DE", col: 2, row: 0, forest: deForest, aquatic: [], veg: deVegetation, notes: deOutside, yLab: false, xLab: false },
  { name: "FR", col: 3, row: 0, forest: frForest, aquatic: [], veg: frVegetation, notes: frOutside, yLab: false, xLab: true },
  { name: "IE", col: 0, row: 1, forest: ieForest, aquatic: [], veg: ieVegetation, notes: ieOutside, yLab: true, xLab: true },
  { name: "IT", col: 1, row: 1, forest: itForest, aquatic: itAquatic, veg: itVegetation, notes: itOutside, yLab: false, xLab: true },
  { name: "NL", col: 2, row: 1, forest: nlForest, aquatic: [], veg: nlVegetation, notes: nlOutside, yLab: false, xLab: true }
];

// ---- layout ----
const svg = d3.select("#chart");
const W = 262, H = 261.5;
const colX = [65, 352, 639.5, 927];
const rowY = [14.5, 297];
const x = d3.scaleLinear().domain([10, 40]).range([0, W]);
const y = d3.scaleLinear().domain([0, 2]).range([H, 0]);

const brown = "#663300", green = "#00ff00", blue = "#0000ff";

svg.append("defs").append("marker")
  .attr("id", "ah").attr("viewBox", "0 0 10 10").attr("refX", 10).attr("refY", 5)
  .attr("markerWidth", 5).attr("markerHeight", 4).attr("markerUnits", "userSpaceOnUse")
  .attr("orient", "auto")
  .append("path").attr("d", "M0,0 L10,5 L0,10 z").attr("fill", "#000");

const crossPath = "M-2.1,-2.1L2.1,2.1M-2.1,2.1L2.1,-2.1";
const triPath = "M0,-3.3L3,1.9L-3,1.9Z";

function styleAxis(sel) {
  sel.select(".domain").remove();
  sel.selectAll(".tick line").attr("stroke", "#000").attr("stroke-width", 1);
  sel.selectAll("text").attr("font-size", 15).attr("fill", "#000");
  sel.attr("font-family", null).attr("font-size", null);
}

function drawNote(g, kind, label) {
  const a = g.append("g");
  const line = (x1, y1, x2, y2) => a.append("line")
    .attr("x1", x1).attr("y1", y1).attr("x2", x2).attr("y2", y2)
    .attr("stroke", "#000").attr("stroke-width", 0.9).attr("marker-end", "url(#ah)");
  const txt = (tx, ty, anchor) => a.append("text")
    .attr("x", tx).attr("y", ty).attr("text-anchor", anchor).attr("font-size", 15).text(label);
  const ym = y(1), xm = x(25);
  switch (kind) {
    case "r": line(W - 10, ym, W, ym); txt(W - 11, ym + 5.3, "end"); break;
    case "l": line(10, ym, 0, ym); txt(11, ym + 5.3, "start"); break;
    case "t": line(xm, 11, xm, 0); txt(xm, 21.7, "middle"); break;
    case "b": line(xm, H - 18, xm, H); txt(xm, H - 11, "middle"); break;
    case "tl": line(11, 11, 0, 0); txt(12, 21.7, "start"); break;
    case "tr": line(W - 11, 11, W, 0); txt(W - 12, 21.7, "end"); break;
    case "br": line(W - 11, H - 11, W, H); txt(W - 11, H - 10.7, "end"); break;
  }
}

panels.forEach(p => {
  const g = svg.append("g").attr("transform", `translate(${colX[p.col]},${rowY[p.row]})`);

  // inward ticks on all four sides
  g.append("g").attr("transform", `translate(0,${H})`)
    .call(d3.axisBottom(x).tickValues(xTicks).tickSize(-4).tickPadding(3)
      .tickFormat(p.xLab ? d3.format("d") : () => ""))
    .call(styleAxis);
  g.append("g")
    .call(d3.axisTop(x).tickValues(xTicks).tickSize(-4).tickFormat(() => ""))
    .call(styleAxis);
  g.append("g")
    .call(d3.axisLeft(y).tickValues(yTicks).tickSize(-4).tickPadding(5)
      .tickFormat((d, i) => p.yLab ? yTickLabels[i] : ""))
    .call(styleAxis);
  g.append("g").attr("transform", `translate(${W},0)`)
    .call(d3.axisRight(y).tickValues(yTicks).tickSize(-4).tickFormat(() => ""))
    .call(styleAxis);

  // forest crosses
  g.append("g").selectAll("path").data(expand(p.forest)).join("path")
    .attr("transform", d => `translate(${x(d[0])},${y(d[1])})`)
    .attr("d", crossPath).attr("stroke", brown).attr("stroke-width", 1.5).attr("fill", "none");
  // aquatic circles
  g.append("g").selectAll("circle").data(expand(p.aquatic)).join("circle")
    .attr("cx", d => x(d[0])).attr("cy", d => y(d[1])).attr("r", 3)
    .attr("stroke", blue).attr("stroke-width", 1.2).attr("fill", "none");
  // vegetation triangles
  g.append("g").selectAll("path").data(expand(p.veg)).join("path")
    .attr("transform", d => `translate(${x(d[0])},${y(d[1])})`)
    .attr("d", triPath).attr("stroke", green).attr("stroke-width", 1.1).attr("fill", "none");

  // frame
  g.append("rect").attr("width", W).attr("height", H)
    .attr("fill", "none").attr("stroke", "#000").attr("stroke-width", 1);

  // country code
  g.append("text").attr("x", 18).attr("y", 37.5).attr("font-size", 30).text(p.name);

  p.notes.forEach(n => drawNote(g, n[0], n[1]));

  // axis titles
  if (p.xLab) {
    const t = svg.append("text")
      .attr("x", colX[p.col] + W / 2).attr("y", rowY[p.row] + H + 30)
      .attr("text-anchor", "middle").attr("font-size", 17);
    t.append("tspan").text("C:N ratio [g g");
    t.append("tspan").attr("font-size", 11).attr("dy", -7).text("-1");
    t.append("tspan").attr("dy", 7).text("]");
  }
  if (p.yLab) {
    const t = svg.append("text")
      .attr("transform", `translate(27.5,${rowY[p.row] + H / 2}) rotate(-90)`)
      .attr("text-anchor", "middle").attr("font-size", 17.5);
    t.append("tspan").text("[N] [eq m");
    t.append("tspan").attr("font-size", 11.5).attr("dy", -7).text("-3");
    t.append("tspan").attr("dy", 7).text("]");
  }
});

// ---- legend ----
const lg = svg.append("g");
lg.append("text").attr("x", 946).attr("y", 380).attr("font-size", 26.5).text("Legend");
const ly = [405, 434.7, 465];
lg.append("path").attr("d", `M${979 - 7.5},${ly[0] - 7.5}L${979 + 7.5},${ly[0] + 7.5}M${979 - 7.5},${ly[0] + 7.5}L${979 + 7.5},${ly[0] - 7.5}`)
  .attr("stroke", brown).attr("stroke-width", 1).attr("fill", "none");
lg.append("circle").attr("cx", 979).attr("cy", ly[1]).attr("r", 11.3)
  .attr("stroke", blue).attr("stroke-width", 1).attr("fill", "none");
lg.append("path").attr("d", `M979,${ly[2] - 11}L${979 + 11.5},${ly[2] + 9}L${979 - 11.5},${ly[2] + 9}Z`)
  .attr("stroke", green).attr("stroke-width", 1).attr("fill", "none");
lg.selectAll("text.item").data(legendItems).join("text").attr("class", "item")
  .attr("x", 1021).attr("y", (d, i) => [417.5, 446.5, 477.3][i]).attr("font-size", 21).text(d => d);
</script>
</body>
</html>
